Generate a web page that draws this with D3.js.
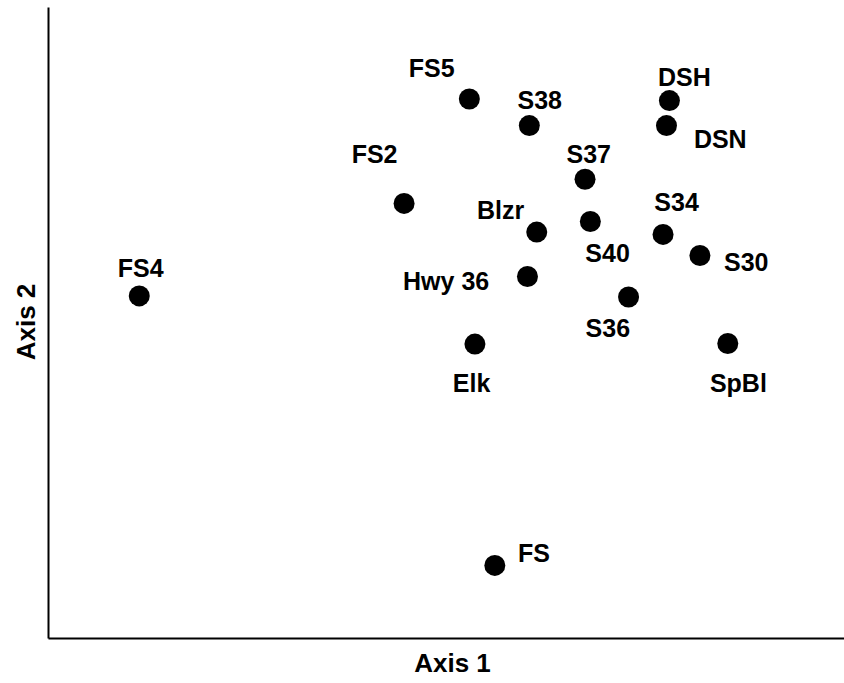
<!DOCTYPE html>
<html>
<head>
<meta charset="utf-8">
<script src="https://cdn.jsdelivr.net/npm/d3@7"></script>
<style>
  html, body { margin: 0; padding: 0; background: #fff; }
  svg { display: block; }
  text { font-family: "Liberation Sans", Arial, Helvetica, sans-serif; font-weight: bold; fill: #000; }
</style>
</head>
<body>
<svg id="chart" width="844" height="683"></svg>
<script>
// ---- data (ordination scores) ----
const sites = ["FS4","FS5","S38","DSH","DSN","FS2","S37","Blzr","S40","S34","S30","Hwy 36","S36","Elk","SpBl","FS"];
const axis1 = [-1.156, 0.088, 0.314, 0.842, 0.831, -0.158, 0.524, 0.342, 0.544, 0.818, 0.957, 0.307, 0.688, 0.109, 1.062, 0.184];
const axis2 = [0.101, 0.850, 0.749, 0.844, 0.749, 0.453, 0.545, 0.344, 0.384, 0.335, 0.255, 0.175, 0.097, -0.082, -0.080, -0.924];
const axisTitles = ["Axis 1", "Axis 2"];

// ---- label placement (layout only) ----
const labelOffset = {
  "FS4": [1.5, -19.3], "FS5": [-37.6, -21.7], "S38": [10.4, -16.2], "DSH": [14.9, -14.8],
  "DSN": [53.8, 22.8], "FS2": [-29.5, -40.2], "S37": [3.7, -16], "Blzr": [-36.2, -13],
  "S40": [17.2, 40.8], "S34": [13.5, -23.8], "S30": [46.3, 15.2], "Hwy 36": [-81.3, 13.5],
  "S36": [-20.7, 40.2], "Elk": [-3.3, 47.7], "SpBl": [10.6, 48.2], "FS": [39.1, -3.8]
};

const W = 844, H = 683;
const margin = {left: 48, top: 7, right: 0, bottom: 45};
const svg = d3.select("#chart");

const x = d3.scaleLinear().domain([-1.5, 1.5]).range([margin.left, W - margin.right]);
const y = d3.scaleLinear().domain([-1.2, 1.2]).range([H - margin.bottom, margin.top]);

const xAxis = svg.append("g")
  .attr("transform", `translate(0,${H - margin.bottom})`)
  .call(d3.axisBottom(x).tickValues([]).tickSizeOuter(0));
const yAxis = svg.append("g")
  .attr("transform", `translate(${margin.left},0)`)
  .call(d3.axisLeft(y).tickValues([]).tickSizeOuter(0));
svg.selectAll(".domain").attr("stroke", "#000").attr("stroke-width", 2);

const data = sites.map((s, i) => ({name: s, a1: axis1[i], a2: axis2[i]}));

svg.append("g").selectAll("circle").data(data).join("circle")
  .attr("cx", d => x(d.a1))
  .attr("cy", d => y(d.a2))
  .attr("r", 10.5)
  .attr("fill", "#000");

svg.append("g").selectAll("text").data(data).join("text")
  .attr("x", d => x(d.a1) + labelOffset[d.name][0])
  .attr("y", d => y(d.a2) + labelOffset[d.name][1])
  .attr("text-anchor", "middle")
  .attr("font-size", 25)
  .text(d => d.name);

svg.append("text")
  .attr("x", 452.5).attr("y", 672)
  .attr("text-anchor", "middle")
  .attr("font-size", 26)
  .text(axisTitles[0]);

svg.append("text")
  .attr("transform", "translate(35,322) rotate(-90)")
  .attr("text-anchor", "middle")
  .attr("font-size", 26)
  .text(axisTitles[1]);
</script>
</body>
</html>
